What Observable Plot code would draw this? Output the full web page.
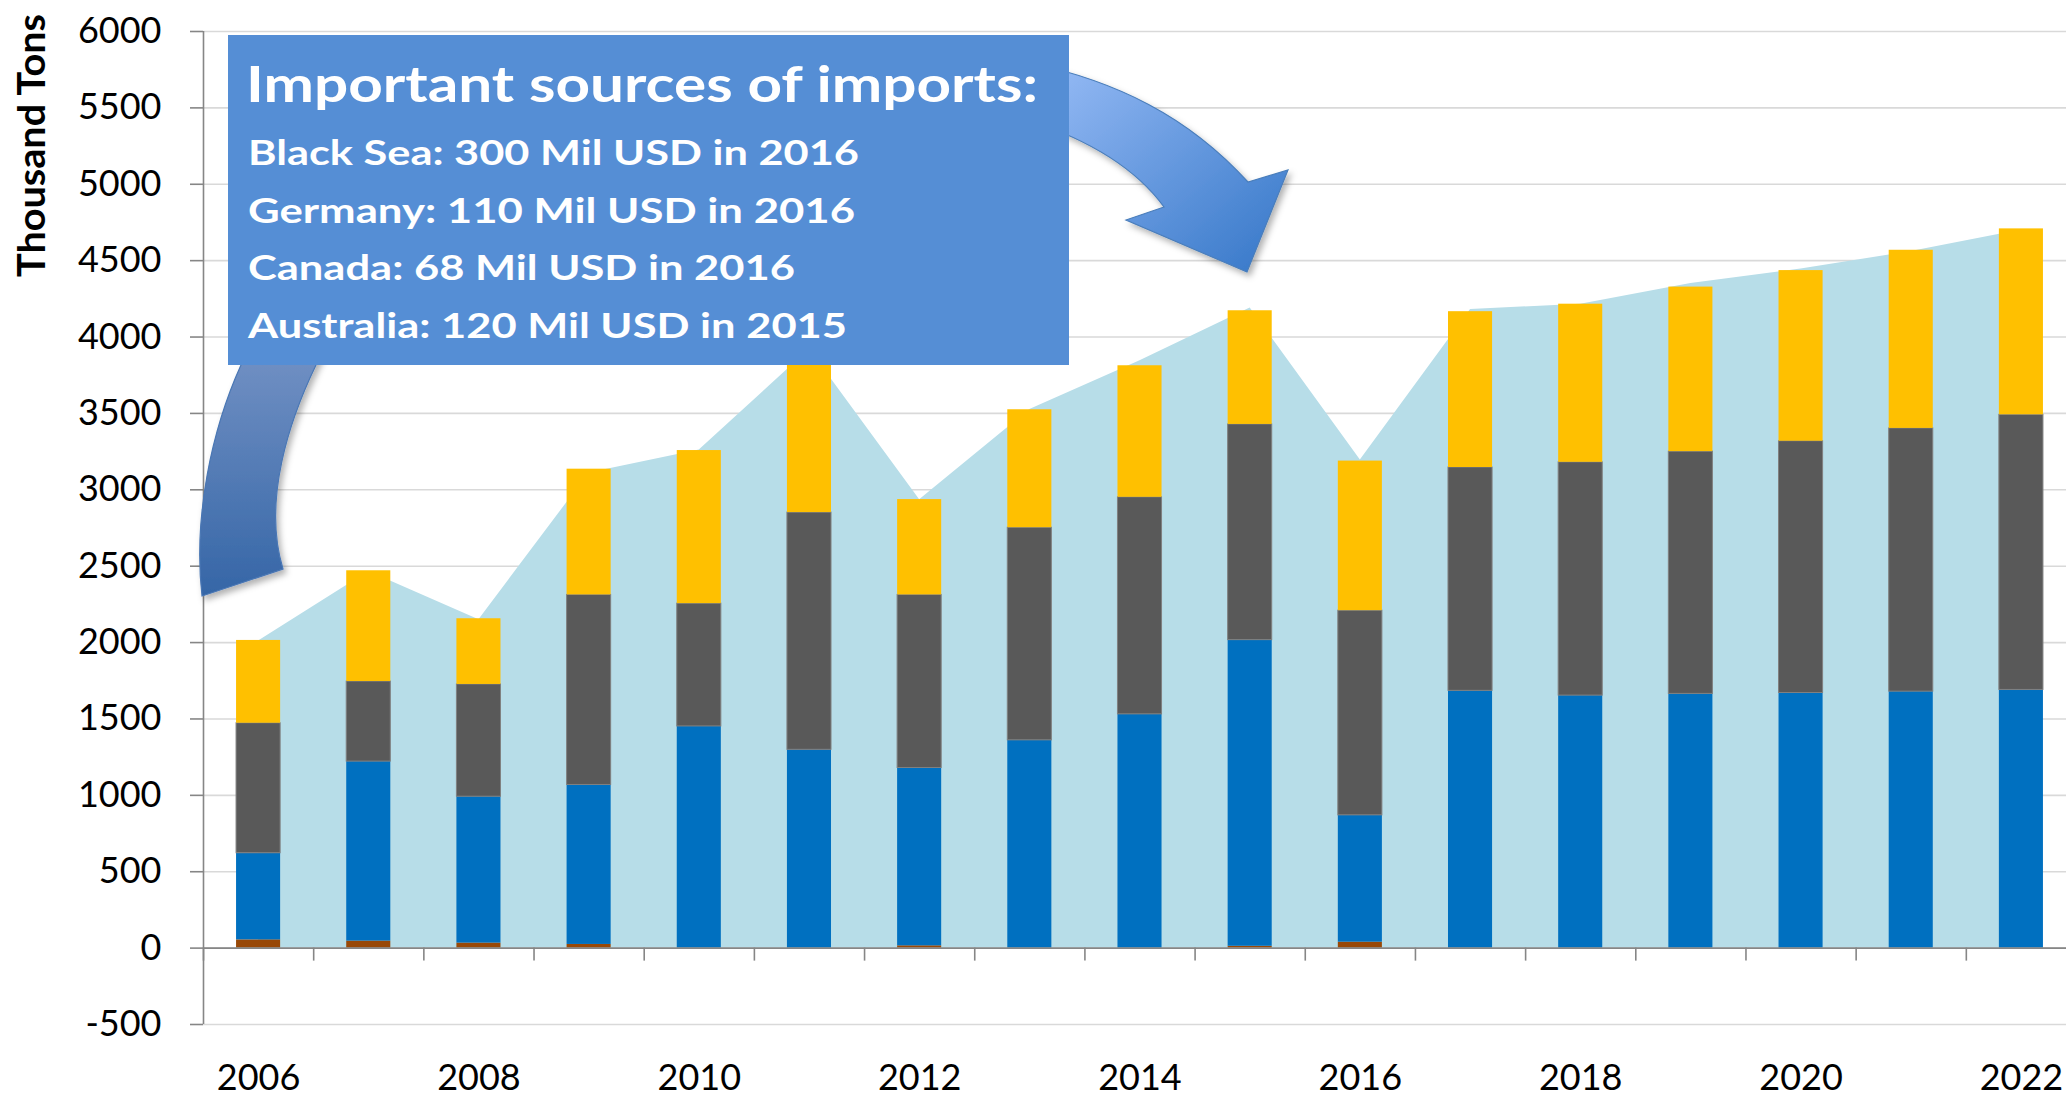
<!DOCTYPE html>
<html>
<head>
<meta charset="utf-8">
<script src="https://cdn.jsdelivr.net/npm/d3@7"></script>
<script src="https://cdn.jsdelivr.net/npm/@observablehq/plot@0.6"></script>
<style>
  html, body { margin: 0; padding: 0; background: #ffffff; overflow: hidden; }
  #chart { width: 2066px; height: 1097px; overflow: hidden; position: relative; }
</style>
</head>
<body>
<div id="chart"></div>
<script>
// ---------------- data ----------------
const years = [2006, 2007, 2008, 2009, 2010, 2011, 2012, 2013, 2014, 2015, 2016, 2017, 2018, 2019, 2020, 2021, 2022];
const brownSeries  = [54, 46, 33, 24, 0, 0, 15, 0, 0, 12, 39, 0, 0, 0, 0, 0, 0];
const blueSeries   = [567, 1175, 958, 1044, 1451, 1298, 1164, 1360, 1530, 2004, 830, 1684, 1653, 1664, 1670, 1679, 1690];
const graySeries   = [851, 524, 735, 1244, 804, 1553, 1133, 1392, 1421, 1412, 1340, 1462, 1527, 1586, 1648, 1723, 1801];
const yellowSeries = [542, 725, 430, 823, 1002, 1039, 624, 772, 861, 744, 979, 1020, 1035, 1077, 1117, 1166, 1217];
const areaSeries   = [2010, 2466, 2150, 3110, 3260, 3920, 2935, 3525, 3845, 4190, 3195, 4180, 4215, 4350, 4445, 4560, 4700];
const yTicks = [-500, 0, 500, 1000, 1500, 2000, 2500, 3000, 3500, 4000, 4500, 5000, 5500, 6000];
const xTickLabels = [2006, 2008, 2010, 2012, 2014, 2016, 2018, 2020, 2022];
const yAxisTitle = "Thousand Tons";
const boxTitle = "Important sources of imports:";
const boxLines = [
  "Black Sea: 300 Mil USD in 2016",
  "Germany: 110 Mil USD in 2016",
  "Canada: 68 Mil USD in 2016",
  "Australia: 120 Mil USD in 2015"
];

// ---------------- derived tables ----------------
const seriesDefs = [
  {key: "brown", values: brownSeries, fill: "#984807", stroke: "none"},
  {key: "blue", values: blueSeries, fill: "#0070c0", stroke: "none"},
  {key: "gray", values: graySeries, fill: "#595959", stroke: "#808080"},
  {key: "yellow", values: yellowSeries, fill: "#ffc000", stroke: "none"}
];
const stacked = {};
seriesDefs.forEach(s => stacked[s.key] = []);
years.forEach((year, i) => {
  let acc = 0;
  for (const s of seriesDefs) {
    const v = s.values[i];
    if (v > 0) stacked[s.key].push({year, y1: acc, y2: acc + v});
    acc += v;
  }
});
const areaData = years.map((year, i) => ({year, value: areaSeries[i]}));
const boundaries = years.map(y => y - 0.5).concat([years[years.length - 1] + 0.5]);
const halfBar = 0.2;

const FONT = "Lato, 'Open Sans', sans-serif";

const plot = Plot.plot({
  width: 2076,
  height: 1097,
  marginLeft: 203,
  marginRight: 0,
  marginTop: 31,
  marginBottom: 73,
  style: {maxWidth: "none", background: "#ffffff", fontFamily: FONT, color: "#000000", overflow: "visible"},
  x: {type: "linear", domain: [years[0] - 0.5, years[years.length - 1] + 0.5], axis: null},
  y: {domain: [-500, 6000]},
  marks: [
    Plot.ruleY(yTicks, {stroke: "#d9d9d9", strokeWidth: 1.6}),
    Plot.areaY(areaData, {x: "year", y: "value", fill: "#b7dde8"}),
    ...seriesDefs.map(s => Plot.rect(stacked[s.key], {
      x1: d => d.year - halfBar,
      x2: d => d.year + halfBar,
      y1: "y1",
      y2: "y2",
      fill: s.fill,
      stroke: s.stroke,
      strokeWidth: 1
    })),
    Plot.ruleY([0], {stroke: "#868686", strokeWidth: 1.6}),
    Plot.ruleX([years[0] - 0.5], {stroke: "#868686", strokeWidth: 1.6}),
    Plot.ruleX(boundaries, {x: d => d, y1: 0, y2: 0, insetBottom: -13, stroke: "#868686", strokeWidth: 1.6}),
    Plot.axisY({
      ticks: yTicks,
      tickSize: 13,
      tickPadding: 29,
      tickFormat: d => String(d),
      stroke: "#868686",
      strokeWidth: 1.6,
      fill: "#000000",
      fontSize: 36,
      fontFamily: FONT,
      label: null
    }),
    Plot.text(xTickLabels, {
      x: d => d,
      frameAnchor: "bottom",
      lineAnchor: "bottom",
      dy: 65,
      text: d => String(d),
      fontSize: 36,
      fontFamily: FONT,
      fill: "#000000"
    })
  ]
});

document.getElementById("chart").appendChild(plot);

// ---------------- annotations ----------------
const svg = d3.select(plot);
const defs = svg.append("defs");

const gl = defs.append("linearGradient").attr("id", "arrowLeftGrad")
  .attr("gradientUnits", "userSpaceOnUse").attr("x1", 0).attr("y1", 365).attr("x2", 0).attr("y2", 600);
gl.append("stop").attr("offset", "0%").attr("stop-color", "#6e8ec2");
gl.append("stop").attr("offset", "100%").attr("stop-color", "#3465a6");

const gr = defs.append("linearGradient").attr("id", "arrowRightGrad")
  .attr("gradientUnits", "userSpaceOnUse").attr("x1", 1069).attr("y1", 75).attr("x2", 1240).attr("y2", 272);
gr.append("stop").attr("offset", "0%").attr("stop-color", "#8fb6f2");
gr.append("stop").attr("offset", "100%").attr("stop-color", "#3e7dcc");

defs.append("clipPath").attr("id", "clipLeft").append("rect")
  .attr("x", 0).attr("y", 0).attr("width", 700).attr("height", 1097);
defs.append("clipPath").attr("id", "clipRight").append("rect")
  .attr("x", 700).attr("y", 0).attr("width", 1400).attr("height", 1097);

const shadow = defs.append("filter").attr("id", "arrowShadow")
  .attr("x", "-20%").attr("y", "-20%").attr("width", "140%").attr("height", "140%");
shadow.append("feDropShadow").attr("dx", 3).attr("dy", 4).attr("stdDeviation", 3)
  .attr("flood-color", "#000000").attr("flood-opacity", 0.3);

// curved arrow outline in screen pixels (passes behind the text box)
const arrowPath = [
  "M202,596",
  "C193,516 212,429 241,365",
  "C304,228 520,42 720,42",
  "C960,42 1128,50 1248,182",
  "L1288,170 L1247,272 L1126,220 L1164,207",
  "C1115,140 1000,85 720,80",
  "C560,80 380,230 316,365",
  "C290,419 262,500 283,569",
  "Z"
].join(" ");

const ag = svg.append("g").attr("filter", "url(#arrowShadow)");
ag.append("path").attr("d", arrowPath).attr("fill", "url(#arrowLeftGrad)")
  .attr("stroke", "#4a77b4").attr("stroke-width", 1.2).attr("clip-path", "url(#clipLeft)");
ag.append("path").attr("d", arrowPath).attr("fill", "url(#arrowRightGrad)")
  .attr("stroke", "#4a7ebb").attr("stroke-width", 1.2).attr("clip-path", "url(#clipRight)");

svg.append("rect")
  .attr("x", 228).attr("y", 35).attr("width", 841).attr("height", 330)
  .attr("fill", "#558ed5");

const tg = svg.append("g").attr("text-anchor", "start");

tg.append("text")
  .attr("x", 246).attr("y", 102)
  .attr("text-anchor", "start")
  .attr("fill", "#ffffff")
  .attr("font-family", FONT)
  .attr("font-weight", 700)
  .attr("font-size", 50)
  .attr("textLength", 792)
  .attr("lengthAdjust", "spacingAndGlyphs")
  .text(boxTitle);

const lineWidths = [611, 607, 547, 599];
const lineBase = [165, 223, 280, 337.5];
boxLines.forEach((t, i) => {
  tg.append("text")
    .attr("x", 248).attr("y", lineBase[i])
    .attr("text-anchor", "start")
    .attr("fill", "#ffffff")
    .attr("font-family", FONT)
    .attr("font-weight", 700)
    .attr("font-size", 35)
    .attr("textLength", lineWidths[i])
    .attr("lengthAdjust", "spacingAndGlyphs")
    .text(t);
});

svg.append("text")
  .attr("transform", "translate(45,145.5) rotate(-90)")
  .attr("text-anchor", "middle")
  .attr("fill", "#000000")
  .attr("font-family", FONT)
  .attr("font-weight", 700)
  .attr("font-size", 38)
  .attr("textLength", 263)
  .attr("lengthAdjust", "spacingAndGlyphs")
  .text(yAxisTitle);
</script>
</body>
</html>
